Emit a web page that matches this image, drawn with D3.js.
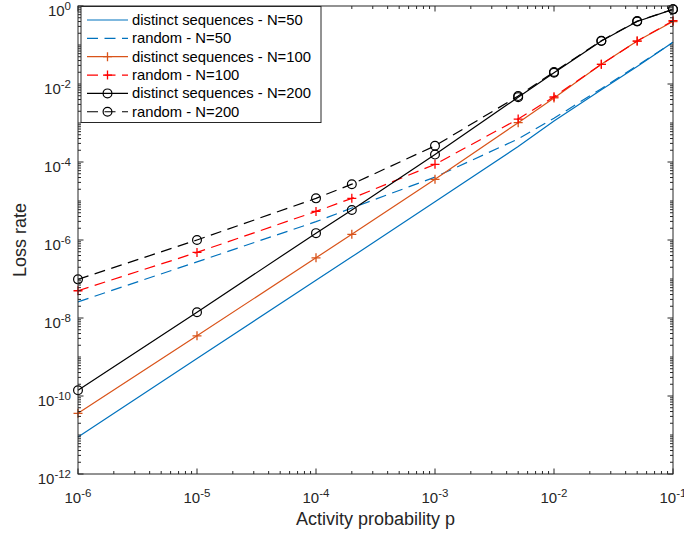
<!DOCTYPE html>
<html><head><meta charset="utf-8">
<script src="https://cdn.jsdelivr.net/npm/d3@7"></script>
<style>body{margin:0;background:#fff}svg{display:block;font-family:"Liberation Sans",Arial,sans-serif}</style>
</head><body><svg id="c" width="684" height="538"></svg>
<script>
const pValues = [1e-6, 1e-5, 1e-4, 2e-4, 1e-3, 5e-3, 1e-2, 2.5e-2, 5e-2, 1e-1];
const distinctN50 = [8.9e-12, 9.1e-10, 9.3e-8, 3.7e-7, 9.5e-6, 2.5e-4, 1.12e-3, 7.1e-3, 2.8e-2, 0.117];
const randomN50   = [2.6e-8, 2.75e-7, 2.95e-6, 6.6e-6, 4.1e-5, 3.9e-4, 1.32e-3, 7.6e-3, 2.95e-2, 0.117];
const distinctN100 = [3.6e-11, 3.5e-9, 3.5e-7, 1.4e-6, 3.6e-5, 1.02e-3, 4.4e-3, 3.2e-2, 0.126, 0.40];
const randomN100   = [5.0e-8, 4.8e-7, 5.4e-6, 1.17e-5, 8.7e-5, 1.26e-3, 4.7e-3, 3.2e-2, 0.126, 0.42];
const distinctN200 = [1.4e-10, 1.4e-8, 1.5e-6, 5.9e-6, 1.55e-4, 4.6e-3, 1.95e-2, 0.126, 0.40, 0.82];
const randomN200   = [9.8e-8, 1.0e-6, 1.17e-5, 2.7e-5, 2.6e-4, 4.9e-3, 2.04e-2, 0.129, 0.41, 0.82];
const seriesNames = ["distinct sequences - N=50","random - N=50","distinct sequences - N=100","random - N=100","distinct sequences - N=200","random - N=200"];
const xTickExps = [-6,-5,-4,-3,-2,-1];
const yTickExps = [-12,-10,-8,-6,-4,-2,0];
const xLabel = "Activity probability p";
const yLabel = "Loss rate";

const series = [
  {name: seriesNames[0], values: distinctN50, color: "#0072BD", dash: null, marker: null},
  {name: seriesNames[1], values: randomN50, color: "#0072BD", dash: "11,6.5", marker: null},
  {name: seriesNames[2], values: distinctN100, color: "#D95319", dash: null, marker: "plus"},
  {name: seriesNames[3], values: randomN100, color: "#FF0000", dash: "11,6.5", marker: "plus"},
  {name: seriesNames[4], values: distinctN200, color: "#000000", dash: null, marker: "circle"},
  {name: seriesNames[5], values: randomN200, color: "#000000", dash: "11,6.5", marker: "circle"}
];

const L = 78, R = 673, T = 6, B = 474;
const axisColor = "#262626";
const svg = d3.select("#c");
svg.append("rect").attr("width",684).attr("height",538).attr("fill","#fff");

const x = d3.scaleLog().domain([1e-6, 1e-1]).range([L, R]);
const y = d3.scaleLog().domain([1e-12, 1]).range([B, T]);

const line = d3.line().x((d,i)=>x(pValues[i])).y(d=>y(d));
const gData = svg.append("g");
function drawMarker(g, type, cx, cy, color) {
  if (type === "circle") {
    g.append("circle").attr("cx",cx).attr("cy",cy).attr("r",4.4)
      .attr("fill","none").attr("stroke",color).attr("stroke-width",1.2);
  } else if (type === "plus") {
    const s = 4.5;
    g.append("path").attr("d",`M${cx-s},${cy}H${cx+s}M${cx},${cy-s}V${cy+s}`)
      .attr("stroke",color).attr("stroke-width",1.3).attr("fill","none");
  }
}
series.forEach(s => {
  gData.append("path").datum(s.values).attr("d", line)
    .attr("fill","none").attr("stroke", s.color).attr("stroke-width",1.2)
    .attr("stroke-dasharray", s.dash);
  if (s.marker) s.values.forEach((v,i) => drawMarker(gData, s.marker, x(pValues[i]), y(v), s.color));
});

const gAx = svg.append("g");
gAx.append("rect").attr("x",L).attr("y",T).attr("width",R-L).attr("height",B-T)
  .attr("fill","none").attr("stroke",axisColor).attr("stroke-width",1);

function tickSet(lo, hi) {
  const out = [];
  for (let e = lo; e < hi; e++) for (let m = 1; m < 10; m++) out.push({v: m*Math.pow(10,e), m, e});
  out.push({v: Math.pow(10,hi), m:1, e:hi});
  return out;
}
const majorLen = 5.5, minorLen = 3;
tickSet(-6,-1).forEach(t => {
  const len = t.m === 1 ? majorLen : minorLen;
  const px = x(t.v);
  gAx.append("line").attr("x1",px).attr("x2",px).attr("y1",B).attr("y2",B-len).attr("stroke",axisColor);
  gAx.append("line").attr("x1",px).attr("x2",px).attr("y1",T).attr("y2",T+len).attr("stroke",axisColor);
});
tickSet(-12,0).forEach(t => {
  const len = (t.m === 1 && t.e % 2 === 0) ? majorLen : minorLen;
  const py = y(t.v);
  gAx.append("line").attr("y1",py).attr("y2",py).attr("x1",L).attr("x2",L+len).attr("stroke",axisColor);
  gAx.append("line").attr("y1",py).attr("y2",py).attr("x1",R).attr("x2",R-len).attr("stroke",axisColor);
});

function powLabel(g, e, px, py, anchor) {
  const t = g.append("text").attr("x",px).attr("y",py).attr("text-anchor",anchor)
    .attr("fill",axisColor).attr("font-size",15);
  t.append("tspan").text("10");
  t.append("tspan").attr("font-size",11.5).attr("dy",-6.5).text(String(e));
}
xTickExps.forEach(e => powLabel(gAx, e, x(Math.pow(10,e)), 503, "middle"));
yTickExps.forEach(e => powLabel(gAx, e, 71, y(Math.pow(10,e)) + 10, "end"));

svg.append("text").attr("x",(L+R)/2).attr("y",525).attr("text-anchor","middle")
  .attr("font-size",18).attr("fill",axisColor).text(xLabel);
svg.append("text").attr("transform",`translate(26,${(T+B)/2}) rotate(-90)`).attr("text-anchor","middle")
  .attr("font-size",18).attr("fill",axisColor).text(yLabel);

const gL = svg.append("g");
gL.append("rect").attr("x",81).attr("y",6.5).attr("width",240).attr("height",116)
  .attr("fill","#fff").attr("stroke",axisColor).attr("stroke-width",1);
series.forEach((s,i) => {
  const ly = 20 + i*18.35;
  gL.append("line").attr("x1",87).attr("x2",128).attr("y1",ly).attr("y2",ly)
    .attr("stroke",s.color).attr("stroke-width",1.2).attr("stroke-dasharray", s.dash);
  if (s.marker) drawMarker(gL, s.marker, 107.5, ly, s.color);
  gL.append("text").attr("x",132).attr("y",ly+5).attr("font-size",14.8).attr("fill","#000").text(s.name);
});
</script></body></html>
